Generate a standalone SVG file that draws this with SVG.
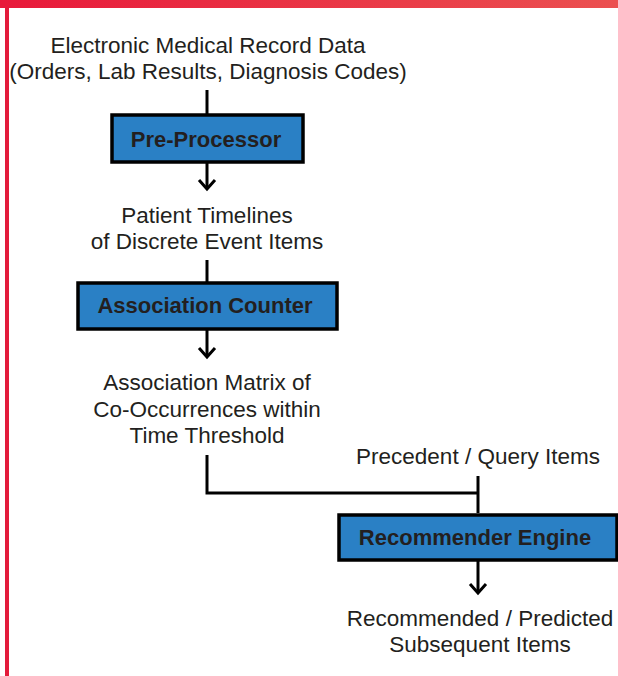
<svg xmlns="http://www.w3.org/2000/svg" width="618" height="676" viewBox="0 0 618 676">
<defs>
<linearGradient id="bar" x1="0" y1="0" x2="1" y2="0">
<stop offset="0" stop-color="#e8193a"/>
<stop offset="1" stop-color="#eb5050"/>
</linearGradient>
<style>
.t{font-family:"Liberation Sans",Arial,sans-serif;font-size:22.5px;fill:#231f20;text-anchor:middle}
.b{font-family:"Liberation Sans",Arial,sans-serif;font-size:22px;font-weight:bold;fill:#231f20;text-anchor:middle}
.box{fill:#2a80c5;stroke:#000;stroke-width:3.5}
.ln{fill:none;stroke:#000;stroke-width:3}
.hd{fill:none;stroke:#000;stroke-width:3;stroke-linecap:butt;stroke-linejoin:miter}
</style>
</defs>
<rect x="0" y="0" width="618" height="8" fill="url(#bar)"/>
<rect x="5" y="8" width="4" height="668" fill="#e31b3b"/>
<g id="connectors">
<path class="ln" d="M207 90V114"/>
<path class="ln" d="M207 162V189"/>
<path class="hd" d="M199 180L207 189L215 180"/>
<path class="ln" d="M207 260V282"/>
<path class="ln" d="M207 329V357"/>
<path class="hd" d="M199 348L207 357L215 348"/>
<path class="ln" d="M207 455V493H478"/>
<path class="ln" d="M478 476V513"/>
<path class="ln" d="M478 560V593"/>
<path class="hd" d="M470 584L478 593L486 584"/>
</g>
<g id="emr">
<text class="t" x="208" y="53">Electronic Medical Record Data</text>
<text class="t" x="208" y="79">(Orders, Lab Results, Diagnosis Codes)</text>
</g>
<g id="preprocessor">
<rect class="box" x="112" y="115" width="191" height="47"/>
<text class="b" x="206" y="147">Pre-Processor</text>
</g>
<g id="timelines">
<text class="t" x="207" y="223">Patient Timelines</text>
<text class="t" x="207" y="249">of Discrete Event Items</text>
</g>
<g id="counter">
<rect class="box" x="78" y="283" width="259" height="46"/>
<text class="b" x="205" y="313">Association Counter</text>
</g>
<g id="matrix">
<text class="t" x="207" y="390">Association Matrix of</text>
<text class="t" x="207" y="417">Co-Occurrences within</text>
<text class="t" x="207" y="443">Time Threshold</text>
</g>
<g id="query">
<text class="t" x="478" y="464">Precedent / Query Items</text>
</g>
<g id="recommender">
<rect class="box" x="339" y="515" width="278" height="45"/>
<text class="b" x="475" y="545">Recommender Engine</text>
</g>
<g id="output">
<text class="t" x="480" y="626">Recommended / Predicted</text>
<text class="t" x="480" y="652">Subsequent Items</text>
</g>
</svg>
